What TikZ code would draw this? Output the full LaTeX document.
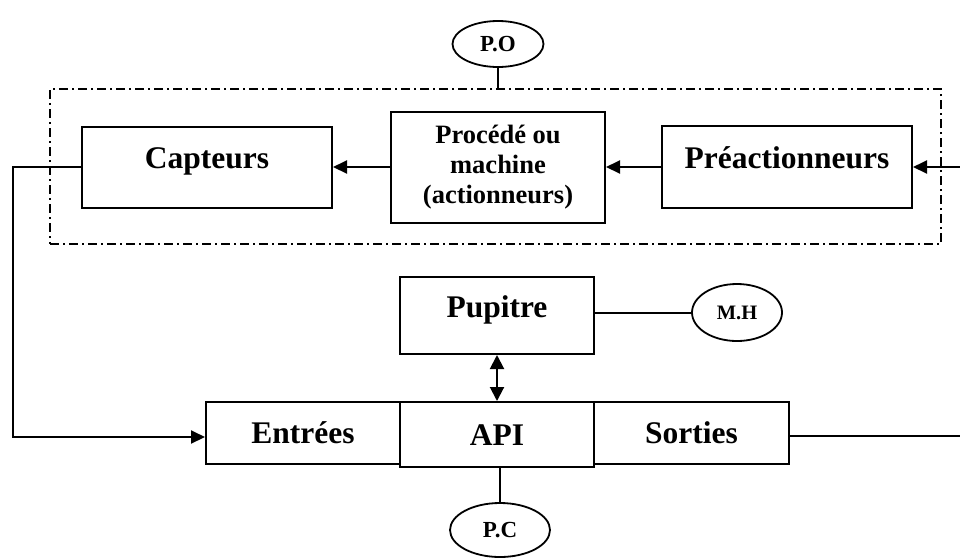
\documentclass[tikz,border=0pt]{standalone}
\usepackage{fontspec}
\setmainfont{Liberation Serif}
\usetikzlibrary{arrows.meta,shapes.geometric}

\begin{document}
\begin{tikzpicture}[x=1pt,y=-1pt,
  box/.style={draw,line width=2pt,inner sep=0pt,font=\bfseries\fontsize{31.5}{36}\selectfont},
  uptext/.style={text height=12pt,text depth=9pt},
  midtext/.style={text height=21pt,text depth=0pt},
  oval/.style={draw,ellipse,line width=1.8pt,inner sep=0pt,font=\bfseries\fontsize{23}{26}\selectfont},
  link/.style={line width=2pt},
  arr/.style={link,-{Triangle[length=14pt,width=13pt]}},
  both/.style={link,{Triangle[length=14pt,width=14pt]}-{Triangle[length=14pt,width=14pt]}},
  zone/.style={draw,line width=1.8pt,dash pattern=on 9pt off 4pt on 2pt off 4pt,inner sep=0pt}
]
\useasboundingbox (0,0) rectangle (960,558);

% operative part (dash-dot frame)
\node[zone,minimum width=891pt,minimum height=155pt] (zone) at (495.5,166.5) {};
\node[box,uptext,minimum width=250pt,minimum height=81pt] (capt) at (207,167) {Capteurs};
\node[box,align=center,font=\bfseries\fontsize{26.5}{30}\selectfont,
      minimum width=214pt,minimum height=111pt] (proc) at (498,167) {Procédé ou\\machine\\(actionneurs)};
\node[box,uptext,minimum width=250pt,minimum height=82pt] (prea) at (787,167) {Préactionneurs};
\node[oval,minimum width=91pt,minimum height=46pt] (PO) at (498,44) {P.O};

% control part
\node[box,uptext,minimum width=194pt,minimum height=77pt] (pup) at (497,315.5) {Pupitre};
\node[oval,font=\bfseries\fontsize{20.5}{24}\selectfont,
      minimum width=90pt,minimum height=57pt] (MH) at (737,312.5) {M.H};
\node[box,midtext,minimum width=194pt,minimum height=62pt] (entr) at (303,433) {Entrées};
\node[box,midtext,minimum width=194pt,minimum height=65pt] (api) at (497,434.5) {API};
\node[box,midtext,minimum width=195pt,minimum height=62pt] (sort) at (691.5,433) {Sorties};
\node[oval,minimum width=100pt,minimum height=54pt] (PC) at (500,530) {P.C};

\coordinate (redge) at (960,0);
\coordinate (ledge) at (13,0);

% connectors
\draw[link] (PO.south) -- (PO.south |- zone.north);
\draw[arr] (redge |- prea.east) -- (prea.east);
\draw[arr] (prea.west) -- (proc.east);
\draw[arr] (proc.west) -- (capt.east);
\draw[arr] (capt.west) -- (ledge |- capt.west) |- ([yshift=-4pt]entr.west);
\draw[link] ([yshift=-3pt]sort.east) -- ([yshift=-3pt]sort.east -| redge);
\draw[both] (pup.south) -- (api.north);
\draw[link] (MH.west -| pup.east) -- (MH.west);
\draw[link] (PC.north |- api.south) -- (PC.north);
\end{tikzpicture}
\end{document}
